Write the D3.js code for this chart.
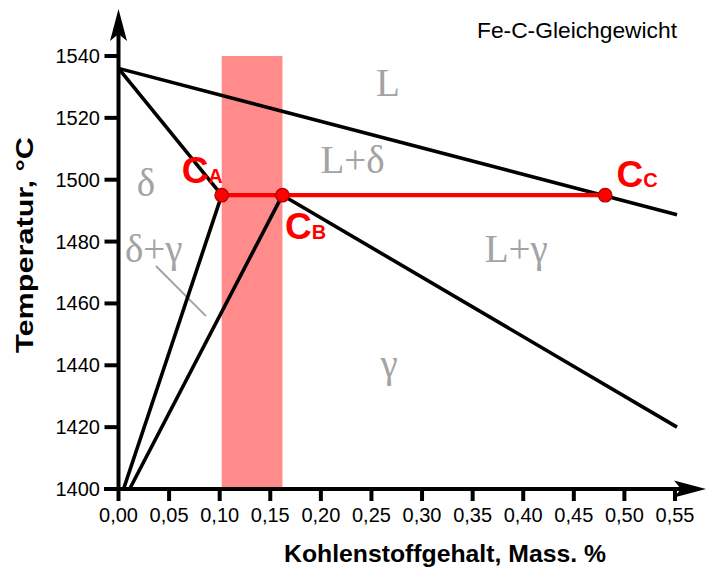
<!DOCTYPE html>
<html><head><meta charset="utf-8">
<script src="https://cdn.jsdelivr.net/npm/d3@7"></script>
<style>body{margin:0;background:#fff}svg{display:block}</style>
</head><body>
<script>
// ---- data ----
const xTicks = [0,0.05,0.10,0.15,0.20,0.25,0.30,0.35,0.40,0.45,0.50,0.55];
const yTicks = [1400,1420,1440,1460,1480,1500,1520,1540];
const liquidus = [[0,1536],[0.552,1488.7]];
const deltaSolidus = [[0,1536],[0.102,1495]];
const deltaGammaA = [[0.102,1495],[0.005,1400]];
const deltaGammaB = [[0.162,1495],[0.011,1400]];
const gammaLine = [[0.162,1495],[0.552,1420]];
const peritectic = [[0.102,1495],[0.481,1495]];
const band = [0.102,0.162];
const points = [["A",0.102,1495],["B",0.162,1495],["C",0.481,1495]];
const pointLabels = [["A",0.0624,1498.9],["B",0.1645,1480.8],["C",0.4921,1497.6]];
const phaseLabels = [["L",0.2544,1527.1],["L+δ",0.1997,1502.3],["δ",0.018,1494.7],["δ+γ",0.0064,1473.5],["L+γ",0.362,1473.3],["γ",0.259,1436.3]];
const leader = [[0.037,1472.1],[0.0865,1455.9]];
const title = "Fe-C-Gleichgewicht";
const xTitle = "Kohlenstoffgehalt, Mass. %";
const yTitle = "Temperatur, °C";

const W=706,H=569;
const svg=d3.select("body").append("svg").attr("width",W).attr("height",H);
const x=d3.scaleLinear().domain([0,0.55]).range([118.5,675]);
const y=d3.scaleLinear().domain([1400,1540]).range([489,56]);
const line=d3.line().x(d=>x(d[0])).y(d=>y(d[1]));
const sans="'Liberation Sans', Arial, sans-serif", serif="'Liberation Serif','Times New Roman',serif";

// band
svg.append("rect").attr("x",x(band[0])).attr("width",x(band[1])-x(band[0]))
  .attr("y",y(1540)).attr("height",y(1400)-y(1540)).attr("fill","#ff8b8b");

// phase labels
svg.selectAll("text.ph").data(phaseLabels).enter().append("text").attr("class","ph")
  .attr("x",d=>x(d[1])).attr("y",d=>y(d[2])).text(d=>d[0])
  .attr("font-family",serif).attr("font-size",39).attr("fill","#a3a3a3");
svg.append("path").attr("d",line(leader)).attr("stroke","#a3a3a3").attr("stroke-width",2).attr("fill","none");

// black lines
[liquidus,deltaSolidus,deltaGammaA,deltaGammaB,gammaLine].forEach(l=>{
  svg.append("path").attr("d",line(l)).attr("stroke","#000").attr("stroke-width",3.6).attr("fill","none");
});
svg.append("path").attr("d",line(peritectic)).attr("stroke","#ff0000").attr("stroke-width",4.2).attr("fill","none");
svg.selectAll("circle").data(points).enter().append("circle")
  .attr("cx",d=>x(d[1])).attr("cy",d=>y(d[2])).attr("r",6.8)
  .attr("fill","#ff0000").attr("stroke","#b00000").attr("stroke-width",1.2);

// point labels
pointLabels.forEach(d=>{
  const t=svg.append("text").attr("x",x(d[1])).attr("y",y(d[2]))
    .attr("font-family",sans).attr("font-weight","bold").attr("fill","#ff0000");
  t.append("tspan").attr("font-size",37).text("C");
  t.append("tspan").attr("font-size",20).text(d[0]);
});

// axes
const ax=svg.append("g").attr("stroke","#000").attr("stroke-width",4).attr("fill","none");
ax.append("line").attr("x1",x(0)).attr("x2",x(0)).attr("y1",y(1400)).attr("y2",30);
ax.append("line").attr("x1",104).attr("x2",692).attr("y1",y(1400)).attr("y2",y(1400));
ax.selectAll("line.xt").data(xTicks).enter().append("line").attr("class","xt")
  .attr("x1",d=>x(d)).attr("x2",d=>x(d)).attr("y1",y(1400)).attr("y2",y(1400)+12);
ax.selectAll("line.yt").data(yTicks).enter().append("line").attr("class","yt")
  .attr("x1",x(0)-14).attr("x2",x(0)).attr("y1",d=>y(d)).attr("y2",d=>y(d));
svg.append("path").attr("d",`M${x(0)},9 L${x(0)+8.5},41 L${x(0)},34 L${x(0)-8.5},41 Z`).attr("fill","#000");
svg.append("path").attr("d",`M706,${y(1400)} L674,${y(1400)-8.5} L681,${y(1400)} L674,${y(1400)+8.5} Z`).attr("fill","#000");

const fmt=d=>d3.format(".2f")(d).replace(".",",");
svg.selectAll("text.xl").data(xTicks).enter().append("text").attr("class","xl")
  .attr("x",d=>x(d)).attr("y",522).attr("text-anchor","middle")
  .attr("font-family",sans).attr("font-size",20).text(fmt);
svg.selectAll("text.yl").data(yTicks).enter().append("text").attr("class","yl")
  .attr("x",100).attr("y",d=>y(d)+7).attr("text-anchor","end")
  .attr("font-family",sans).attr("font-size",20).text(d=>d);

svg.append("text").attr("x",477).attr("y",38).attr("font-family",sans).attr("font-size",21.5)
  .attr("textLength",200).attr("lengthAdjust","spacingAndGlyphs").text(title);
svg.append("text").attr("x",284).attr("y",562).attr("font-family",sans).attr("font-weight","bold")
  .attr("font-size",24).attr("textLength",322).attr("lengthAdjust","spacingAndGlyphs").text(xTitle);
svg.append("text").attr("transform","translate(33,353) rotate(-90)").attr("font-family",sans)
  .attr("font-weight","bold").attr("font-size",24).attr("textLength",216).attr("lengthAdjust","spacingAndGlyphs").text(yTitle);
</script>
</body></html>
